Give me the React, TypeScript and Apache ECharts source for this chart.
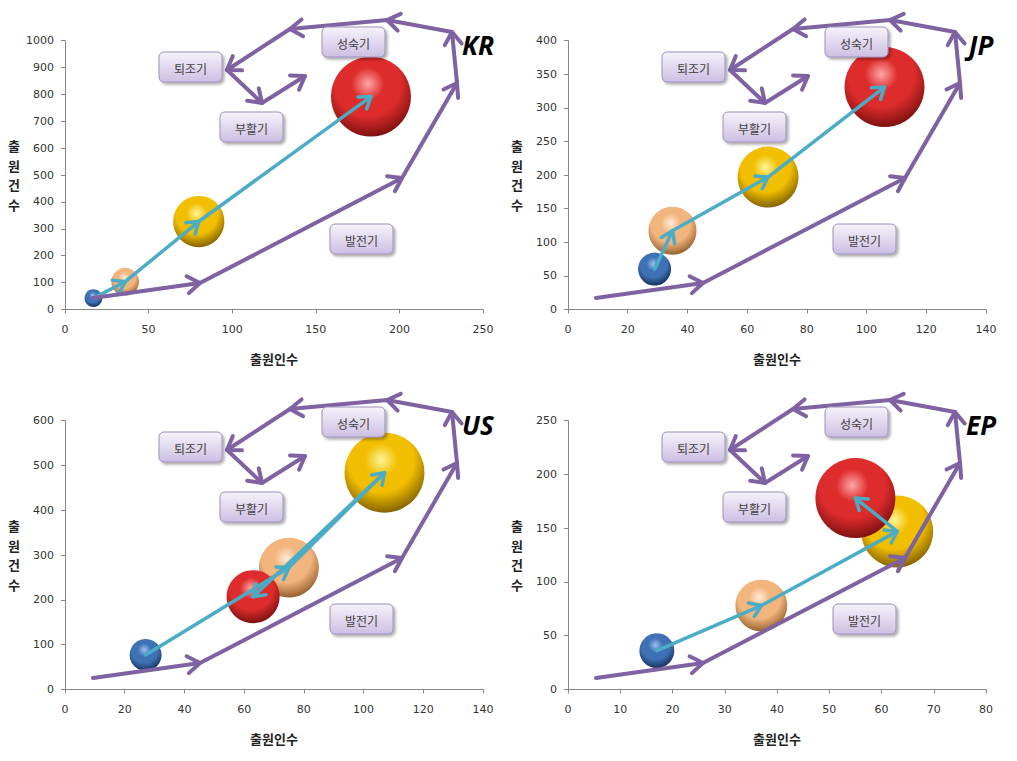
import React, { useEffect, useRef } from 'react';
import * as echarts from 'echarts';

// ---- data (period order: 1 blue, 2 tan, 3 yellow, 4 red) ----
const COUNTRIES = ['KR', 'JP', 'US', 'EP'];

const KR_X = [17, 36, 80, 183];
const KR_Y = [42, 103, 327, 792];
const KR_SIZE = [5, 12, 41, 100];

const JP_X = [29, 35, 67, 106];
const JP_Y = [60, 117, 197, 331];
const JP_SIZE = [17, 36, 58, 100];

const US_X = [27, 75, 107, 63];
const US_Y = [77, 272, 484, 207];
const US_SIZE = [16, 56, 100, 44];

const EP_X = [17, 37, 63, 55];
const EP_Y = [36, 78, 147, 178];
const EP_SIZE = [19, 42, 81, 100];

const X_MAX = [250, 140, 140, 80];
const X_STEP = [50, 20, 20, 10];
const Y_MAX = [1000, 400, 600, 250];
const Y_STEP = [100, 50, 100, 50];

const X_TITLE = '출원인수';
const Y_TITLE = '출원건수';
const STAGES = ['퇴조기', '성숙기', '부활기', '발전기'];

// ---- layout / style (not data) ----
const PANEL_ORIGIN = [[0, 0], [503, 0], [0, 380], [503, 380]];
const GRID_LEFT = 65;
const GRID_TOP = 40.7;
const GRID_W = 418;
const GRID_H = 268.7;
const STAGE_BOX = [[159, 52], [322, 27], [220, 112], [330, 224]];
const STAGE_BOX_SIZE = [63, 30];
const LIFE_PATH = [
  [93, 298], [200, 283], [402, 178], [457, 83], [452, 32],
  [387, 20], [290, 29], [227, 70], [262, 103], [305, 76],
];
const LABEL_POS = [478, 45];

const PERIOD_COLORS = [
  ['#9CC0F0', '#3F72B5', '#16305A'],
  ['#FFEBD6', '#F2B57E', '#94602F'],
  ['#FFF59A', '#F2BE00', '#826200'],
  ['#FFA6A6', '#DE2C2C', '#7E1010'],
];
const TEAL = '#4BACC6';
const PURPLE = '#7E62A2';
const KFONT = '"Noto Sans CJK KR", "Noto Sans", sans-serif';
const NFONT = '"DejaVu Sans", sans-serif';

function headPoints(from: number[], tip: number[], len: number, half: number) {
  const ang = Math.atan2(tip[1] - from[1], tip[0] - from[0]);
  return [
    [tip[0] - len * Math.cos(ang - half), tip[1] - len * Math.sin(ang - half)],
    [tip[0], tip[1]],
    [tip[0] - len * Math.cos(ang + half), tip[1] - len * Math.sin(ang + half)],
  ];
}

function sphere(i: number) {
  const c = PERIOD_COLORS[i];
  return new echarts.graphic.RadialGradient(0.46, 0.34, 0.68, [
    { offset: 0, color: c[0] },
    { offset: 0.3, color: c[1] },
    { offset: 0.6, color: c[1] },
    { offset: 0.98, color: c[2] },
  ]);
}

export default function App() {
  const ref = useRef<HTMLDivElement>(null);

  useEffect(() => {
    if (!ref.current) return;
    const chart = echarts.init(ref.current, undefined, { renderer: 'svg' });

    const XS = [KR_X, JP_X, US_X, EP_X];
    const YS = [KR_Y, JP_Y, US_Y, EP_Y];
    const SZ = [KR_SIZE, JP_SIZE, US_SIZE, EP_SIZE];

    const grids: any[] = [];
    const xAxes: any[] = [];
    const yAxes: any[] = [];
    const series: any[] = [];
    const graphics: any[] = [];

    COUNTRIES.forEach((country, p) => {
      const [ox, oy] = PANEL_ORIGIN[p];
      grids.push({ left: GRID_LEFT + ox, top: GRID_TOP + oy, width: GRID_W, height: GRID_H, containLabel: false });
      xAxes.push({
        type: 'value', gridIndex: p, min: 0, max: X_MAX[p], interval: X_STEP[p],
        name: X_TITLE, nameLocation: 'middle', nameGap: 43,
        nameTextStyle: { fontFamily: KFONT, fontWeight: 'bold', fontSize: 13, color: '#222' },
        axisLine: { show: true, lineStyle: { color: '#868686', width: 1 } },
        axisTick: { show: true, length: 4, lineStyle: { color: '#868686' } },
        axisLabel: { margin: 15, fontFamily: NFONT, fontSize: 11, color: '#333', formatter: (v: number) => String(v) },
        splitLine: { show: false },
      });
      yAxes.push({
        type: 'value', gridIndex: p, min: 0, max: Y_MAX[p], interval: Y_STEP[p],
        name: Y_TITLE.split('').join('\n'), nameLocation: 'middle', nameRotate: 0, nameGap: 45,
        nameTextStyle: { fontFamily: KFONT, fontWeight: 'bold', fontSize: 13, lineHeight: 19.5, color: '#222' },
        axisLine: { show: true, lineStyle: { color: '#868686', width: 1 } },
        axisTick: { show: true, length: 4, lineStyle: { color: '#868686' } },
        axisLabel: { margin: 11, fontFamily: NFONT, fontSize: 11, color: '#333', formatter: (v: number) => String(v) },
        splitLine: { show: false },
      });

      const xs = XS[p], ys = YS[p], sz = SZ[p];
      const maxS = Math.max(...sz);
      series.push({
        type: 'scatter', xAxisIndex: p, yAxisIndex: p, z: 2,
        symbolSize: (v: number[]) => 80 * Math.sqrt(v[2] / maxS),
        data: xs.map((x, i) => ({ value: [x, ys[i], sz[i]], itemStyle: { color: sphere(i), opacity: 1 } })),
        emphasis: { disabled: true },
      });
      const segs = xs.slice(1).map((x, i) => [xs[i], ys[i], x, ys[i + 1]]);
      series.push({
        type: 'custom', xAxisIndex: p, yAxisIndex: p, z: 3,
        encode: { x: [0, 2], y: [1, 3] },
        data: segs,
        renderItem: (_params: any, api: any) => {
          const a = api.coord([api.value(0), api.value(1)]);
          const b = api.coord([api.value(2), api.value(3)]);
          const st = { stroke: TEAL, lineWidth: 3.5, fill: 'none', lineCap: 'round', lineJoin: 'round' };
          return {
            type: 'group',
            children: [
              { type: 'line', shape: { x1: a[0], y1: a[1], x2: b[0], y2: b[1] }, style: st },
              { type: 'polyline', shape: { points: headPoints(a, b, 13, 0.6) }, style: st },
            ],
          };
        },
      });

      // lifecycle annotation (identical in each panel)
      const pts = LIFE_PATH.map(([x, y]) => [x + ox, y + oy]);
      const pst = { stroke: PURPLE, lineWidth: 4, fill: null, lineCap: 'round', lineJoin: 'round' };
      graphics.push({ type: 'polyline', z: 100, shape: { points: pts }, style: pst, silent: true });
      for (let i = 1; i < pts.length; i++) {
        graphics.push({ type: 'polyline', z: 100, shape: { points: headPoints(pts[i - 1], pts[i], 15, 0.6) }, style: pst, silent: true });
      }
      STAGES.forEach((s, k) => {
        const [bx, by] = STAGE_BOX[k];
        const [bw, bh] = STAGE_BOX_SIZE;
        graphics.push({
          type: 'group', x: bx + ox, y: by + oy, z: 110, silent: true,
          children: [
            {
              type: 'rect', z: 110,
              shape: { x: 0, y: 0, width: bw, height: bh, r: 5 },
              style: {
                fill: new echarts.graphic.LinearGradient(0, 0, 0, 1, [
                  { offset: 0, color: '#F6F3FA' },
                  { offset: 1, color: '#CCBFE2' },
                ]),
                stroke: '#9E90BC', lineWidth: 1,
                shadowBlur: 3, shadowOffsetX: 2, shadowOffsetY: 2, shadowColor: 'rgba(0,0,0,0.35)',
              },
            },
            {
              type: 'text', z: 111, x: bw / 2, y: bh / 2 + 1,
              style: {
                text: s, fill: '#404040', fontSize: 12, fontFamily: KFONT,
                align: 'center', verticalAlign: 'middle', textAlign: 'center', textVerticalAlign: 'middle',
              },
            },
          ],
        });
      });
      graphics.push({
        type: 'text', z: 120, x: LABEL_POS[0] + ox, y: LABEL_POS[1] + oy, silent: true,
        style: {
          text: country, fill: '#000', fontSize: 26, fontWeight: 'bold', fontStyle: 'italic',
          fontFamily: '"Noto Sans", "DejaVu Sans", sans-serif',
          align: 'center', verticalAlign: 'middle', textAlign: 'center', textVerticalAlign: 'middle',
        },
      });
    });

    chart.setOption({
      animation: false,
      backgroundColor: '#ffffff',
      grid: grids,
      xAxis: xAxes,
      yAxis: yAxes,
      series,
      graphic: { elements: graphics },
    });

    return () => chart.dispose();
  }, []);

  return (
    <div
      ref={ref}
      style={{ position: 'fixed', left: 0, top: 0, width: 1017, height: 761, background: '#fff' }}
    />
  );
}
